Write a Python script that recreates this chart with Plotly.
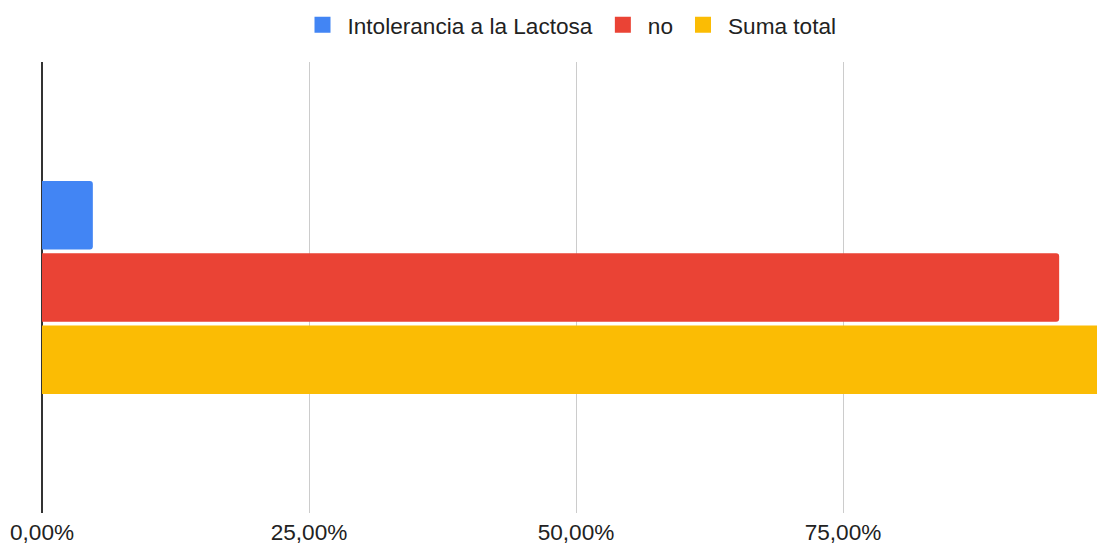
import plotly.graph_objects as go

categories = ["Intolerancia a la Lactosa"]
series_names = ["Intolerancia a la Lactosa", "no", "Suma total"]
series_values = [[0.0476], [0.9524], [1.0]]
colors = ["#4285F4", "#EA4335", "#FBBC04"]
tick_vals = [0, 0.25, 0.5, 0.75]

FONT = "Arial, Liberation Sans, sans-serif"
FS = 22.6

fig = go.Figure()
for name, vals, c in zip(series_names, series_values, colors):
    fig.add_trace(go.Bar(
        y=categories, x=vals, name=name, orientation="h",
        marker=dict(color=c, line=dict(width=0)),
        hoverinfo="x+name", showlegend=False, legendgroup=name,
    ))
# legend entries with larger square swatches
for name, c in zip(series_names, colors):
    fig.add_trace(go.Scatter(
        x=[None], y=[None], mode="markers", name=name, legendgroup=name,
        marker=dict(symbol="square", size=22, color=c),
        showlegend=True,
    ))

W, H = 1097, 545
fig.update_layout(
    width=W, height=H,
    margin=dict(l=42, r=0, t=62, b=32),
    paper_bgcolor="white", plot_bgcolor="white",
    barmode="group", bargap=0.52, bargroupgap=0.05,
    barcornerradius=3,
    separators=",.",
    font=dict(family=FONT, size=FS, color="#222222"),
    legend=dict(orientation="h", x=0.5, xanchor="center",
                yref="container", y=1 - 25 / H, yanchor="middle",
                font=dict(family=FONT, size=FS, color="#222222"),
                itemsizing="trace", itemwidth=40, traceorder="normal"),
    xaxis=dict(range=[0, (W - 42) / 1068], tickvals=tick_vals, tickformat=".2%",
               showgrid=True, gridcolor="#CCCCCC", gridwidth=1,
               zeroline=True, zerolinecolor="#333333", zerolinewidth=2,
               showline=False, ticks="", ticklabelstandoff=3, automargin=False,
               tickfont=dict(family=FONT, size=FS, color="#222222")),
    yaxis=dict(autorange="reversed", showticklabels=False, showgrid=False,
               zeroline=False, showline=False, ticks="", automargin=False),
)
fig.write_html("out.html", config={"displayModeBar": False},
               post_script="document.body.style.margin='0';document.body.style.overflow='hidden';")
